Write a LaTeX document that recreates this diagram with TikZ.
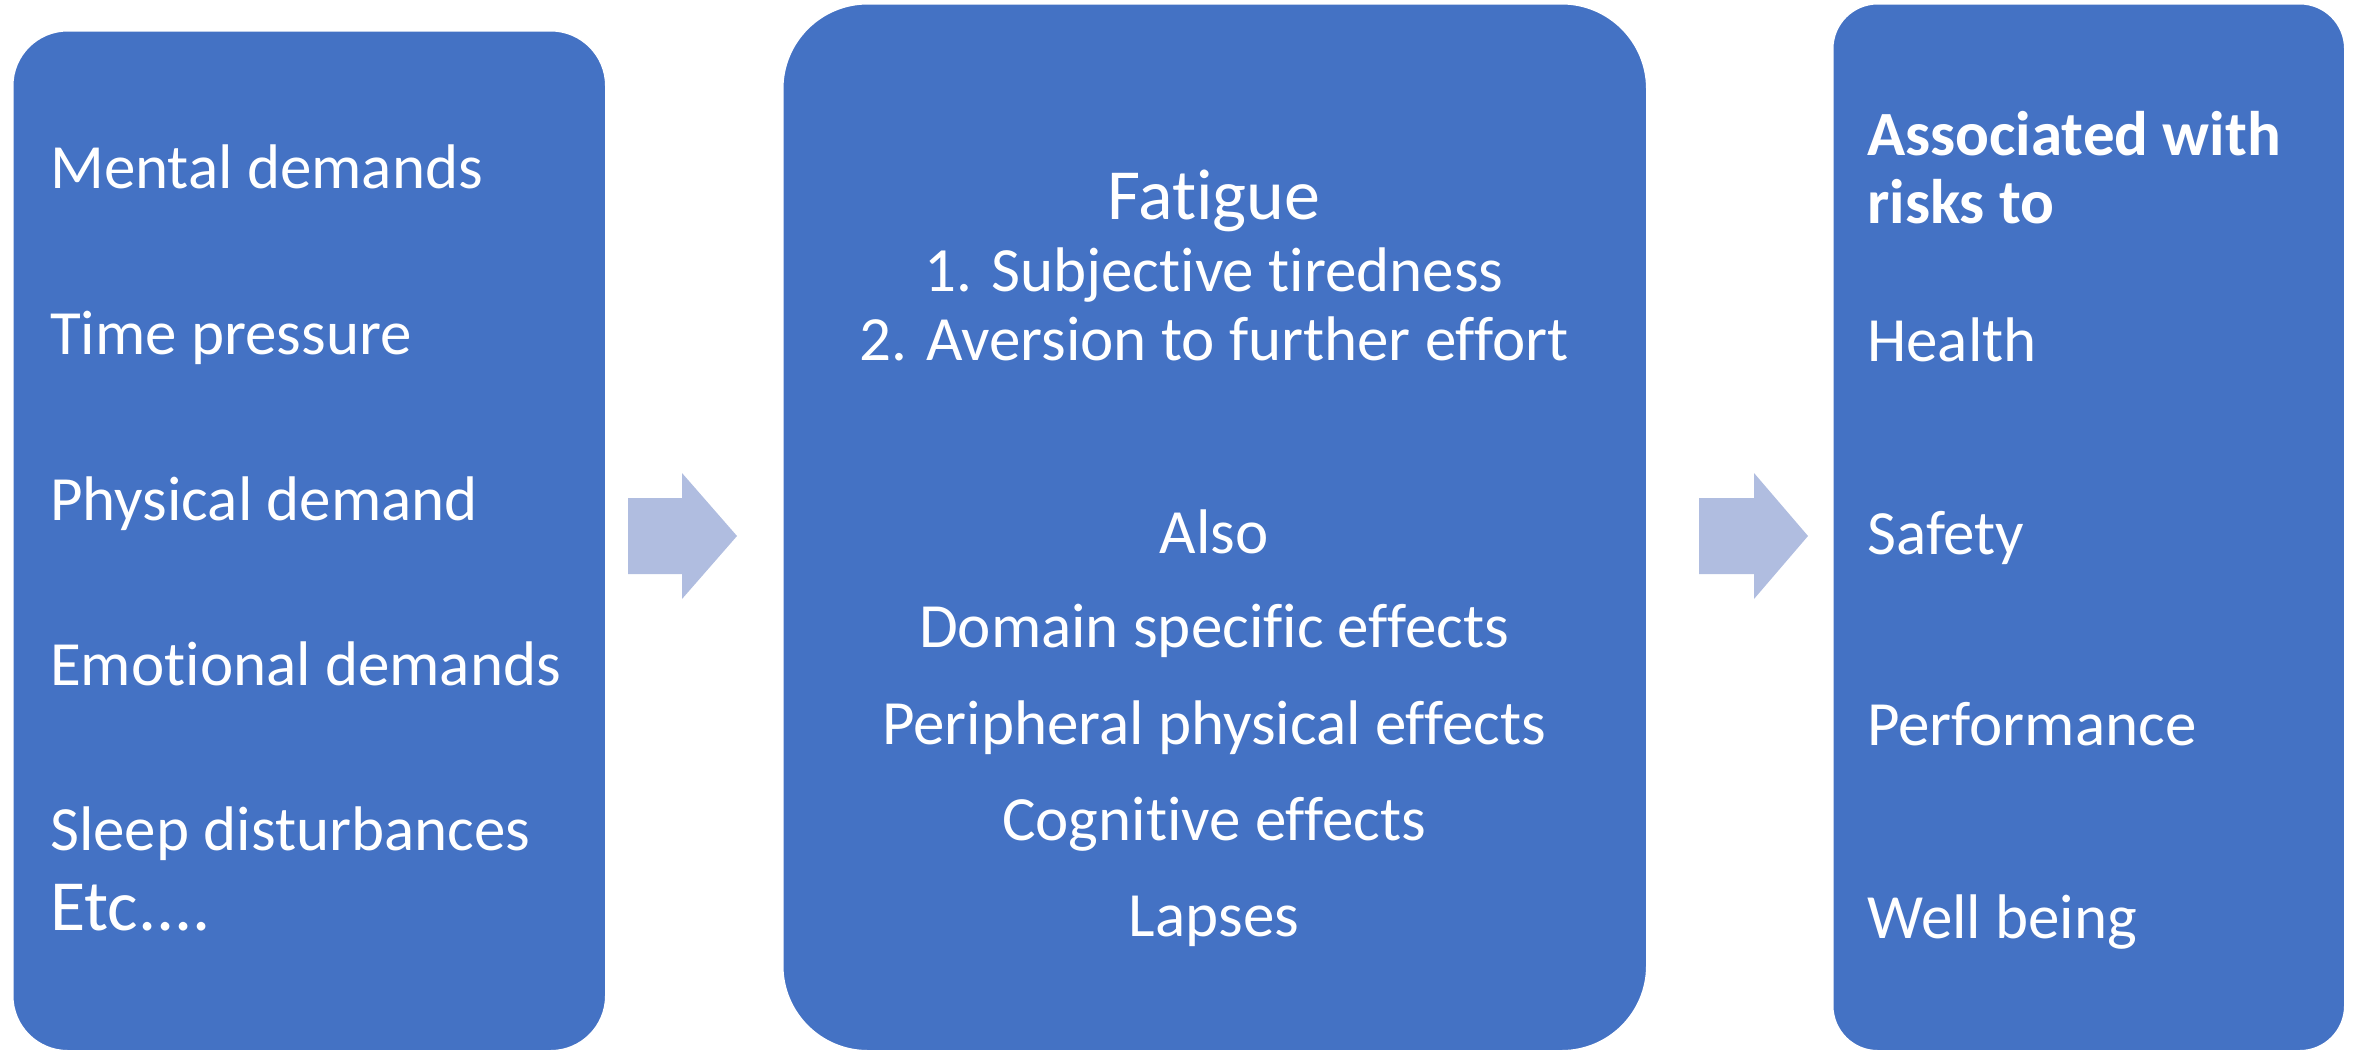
\documentclass[tikz,border=0pt]{standalone}
\usepackage{fontspec}
\setmainfont{Carlito}[Ligatures=NoCommon]
\definecolor{boxblue}{HTML}{4472C4}
\definecolor{arrowblue}{HTML}{B0BDE0}
\begin{document}
\begin{tikzpicture}[x=1pt,y=-1pt,
  box/.style={fill=boxblue, draw=white, line width=1.5pt, inner sep=0pt, anchor=north west},
  txt/.style={text=white, inner sep=0pt, font=\fontsize{63}{76}\selectfont},
  bigtxt/.style={text=white, inner sep=0pt, font=\fontsize{72}{86}\selectfont},
  blockarrow/.style={fill=arrowblue, draw=none}]
\useasboundingbox (0,0) rectangle (2359,1050);
% boxes
\node[box, rounded corners=55pt, minimum width=593pt, minimum height=1020pt] (causes) at (12,30) {};
\node[box, rounded corners=85pt, minimum width=864pt, minimum height=1047pt] (fatigue) at (782,3) {};
\node[box, rounded corners=45pt, minimum width=512pt, minimum height=1047pt] (risks) at (1832,3) {};
% block arrows
\fill[blockarrow] (628,498) -- (682,498) -- (682,473) -- (737,536) -- (682,599) -- (682,574) -- (628,574) -- cycle;
\fill[blockarrow] (1699,498) -- (1754,498) -- (1754,473) -- (1808,536) -- (1754,599) -- (1754,574) -- (1699,574) -- cycle;
% left texts
\node[txt, anchor=base west] (l1) at (50,188) {Mental demands};
\node[txt, anchor=base west] (l2) at (50,354) {Time pressure};
\node[txt, anchor=base west] (l3) at (50,520) {Physical demand};
\node[txt, anchor=base west] (l4) at (50,685) {Emotional demands};
\node[txt, anchor=base west] (l5) at (50,850) {Sleep disturbances};
\node[bigtxt, anchor=base west] (l6) at (50,930) {Etc....};
% middle texts
\node[bigtxt, anchor=base] (m1) at (1214,219) {Fatigue};
\node[txt, anchor=base] (m2) at (1214,291) {1. Subjective tiredness};
\node[txt, anchor=base] (m3) at (1214,360) {2. Aversion to further effort};
\node[txt, anchor=base] (m4) at (1214,553) {Also};
\node[txt, anchor=base] (m5) at (1214,647) {Domain specific effects};
\node[txt, anchor=base] (m6) at (1214,744) {Peripheral physical effects};
\node[txt, anchor=base] (m7) at (1214,840) {Cognitive effects};
\node[txt, anchor=base] (m8) at (1214,936) {Lapses};
% right texts
\node[txt, anchor=base west, font=\fontsize{63}{76}\selectfont\bfseries] (r1) at (1867,155) {Associated with};
\node[txt, anchor=base west, font=\fontsize{63}{76}\selectfont\bfseries] (r2) at (1867,223) {risks to};
\node[txt, anchor=base west] (r3) at (1867,361) {Health};
\node[txt, anchor=base west] (r4) at (1867,554) {Safety};
\node[txt, anchor=base west] (r5) at (1867,745) {Performance};
\node[txt, anchor=base west] (r6) at (1867,938) {Well being};
\end{tikzpicture}
\end{document}
